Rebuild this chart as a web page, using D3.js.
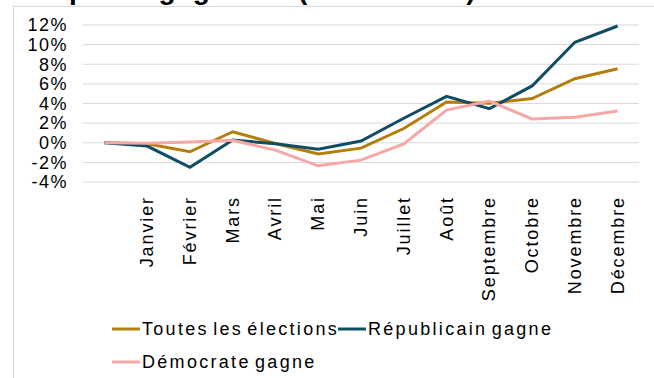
<!DOCTYPE html>
<html>
<head>
<meta charset="utf-8">
<script src="https://cdn.jsdelivr.net/npm/d3@7"></script>
<style>
  html, body { margin: 0; padding: 0; background: #fff; }
  svg { display: block; }
  text { font-family: "Liberation Sans", Arial, sans-serif; }
</style>
</head>
<body>
<svg id="chart" width="654" height="378"></svg>
<script>
// Monthly cumulative return (%) in election years, by winning party
const months = ["", "Janvier", "Février", "Mars", "Avril", "Mai", "Juin", "Juillet",
                "Août", "Septembre", "Octobre", "Novembre", "Décembre"];
const toutes      = [0, -0.1, -0.92, 1.12, -0.08, -1.15, -0.55, 1.45, 4.15, 4.02, 4.5, 6.53, 7.55];
const republicain = [0, -0.34, -2.5, 0.27, -0.1, -0.65, 0.18, 2.5, 4.73, 3.47, 5.79, 10.24, 11.9];
const democrate   = [0, -0.05, 0.07, 0.25, -0.75, -2.35, -1.77, -0.13, 3.33, 4.25, 2.42, 2.59, 3.23];
const yTicks = [-4, -2, 0, 2, 4, 6, 8, 10, 12];
const title = "les partis gagnants (1928 - 2020)";

const series = [
  { name: "Toutes les élections", values: toutes, color: "#b47e0c" },
  { name: "Républicain gagne", values: republicain, color: "#0f4c66" },
  { name: "Démocrate gagne", values: democrate, color: "#f5a8a5" }
];

const svg = d3.select("#chart");

// Outer chart frame
svg.append("rect")
  .attr("x", 13.5).attr("y", 6.5)
  .attr("width", 700).attr("height", 400)
  .attr("fill", "none").attr("stroke", "#d9d9d9").attr("stroke-width", 1);

// Title (sits above the frame)
svg.append("text")
  .attr("x", 19).attr("y", -1)
  .attr("font-size", 28).attr("font-weight", "bold")
  .attr("letter-spacing", 0.8)
  .attr("fill", "#000")
  .text(title);

const x = d3.scaleBand().domain(months.map((m, i) => i)).range([83, 639]);
const y = d3.scaleLinear().domain([-4, 12]).range([182, 25]);
const cx = i => x(i) + x.bandwidth() / 2;

// Gridlines
svg.append("g").selectAll("line").data(yTicks).join("line")
  .attr("x1", 83).attr("x2", 639)
  .attr("y1", d => y(d)).attr("y2", d => y(d))
  .attr("stroke", "#d9d9d9").attr("stroke-width", 1);

// Y axis labels
const yAxis = svg.append("g")
  .attr("transform", "translate(68,0)")
  .call(d3.axisLeft(y).tickValues(yTicks).tickFormat(d => d + "%").tickSize(0).tickPadding(0));
yAxis.select(".domain").remove();
yAxis.selectAll("text")
  .attr("font-family", "Liberation Sans, Arial, sans-serif")
  .attr("font-size", 18).attr("fill", "#000")
  .attr("letter-spacing", 1.5);

// X axis labels (rotated)
const xAxis = svg.append("g")
  .attr("transform", "translate(0,196)")
  .call(d3.axisBottom(x).tickFormat(i => months[i]).tickSize(0).tickPadding(0));
xAxis.select(".domain").remove();
xAxis.selectAll("text")
  .attr("font-family", "Liberation Sans, Arial, sans-serif")
  .attr("font-size", 18).attr("fill", "#000")
  .attr("letter-spacing", 1.9)
  .attr("text-anchor", "end")
  .attr("dy", null).attr("y", 0).attr("x", 0)
  .attr("dominant-baseline", "central")
  .attr("transform", "rotate(-90)");

// Lines
const line = d3.line().x((d, i) => cx(i)).y(d => y(d));
svg.append("g").selectAll("path").data(series).join("path")
  .attr("d", d => line(d.values))
  .attr("fill", "none")
  .attr("stroke", d => d.color)
  .attr("stroke-width", 3)
  .attr("stroke-linejoin", "miter");

// Legend
const legendPos = [
  { x: 112, y: 329 },
  { x: 338, y: 329 },
  { x: 112, y: 362 }
];
const legend = svg.append("g").selectAll("g").data(series).join("g")
  .attr("transform", (d, i) => `translate(${legendPos[i].x},${legendPos[i].y})`);
legend.append("line")
  .attr("x1", 0).attr("x2", 28).attr("y1", 0).attr("y2", 0)
  .attr("stroke", d => d.color).attr("stroke-width", 3);
legend.append("text")
  .attr("x", 30).attr("y", 0)
  .attr("dominant-baseline", "central")
  .attr("font-size", 18).attr("fill", "#000")
  .attr("letter-spacing", 2.3).attr("word-spacing", -3)
  .text(d => d.name);
</script>
</body>
</html>
